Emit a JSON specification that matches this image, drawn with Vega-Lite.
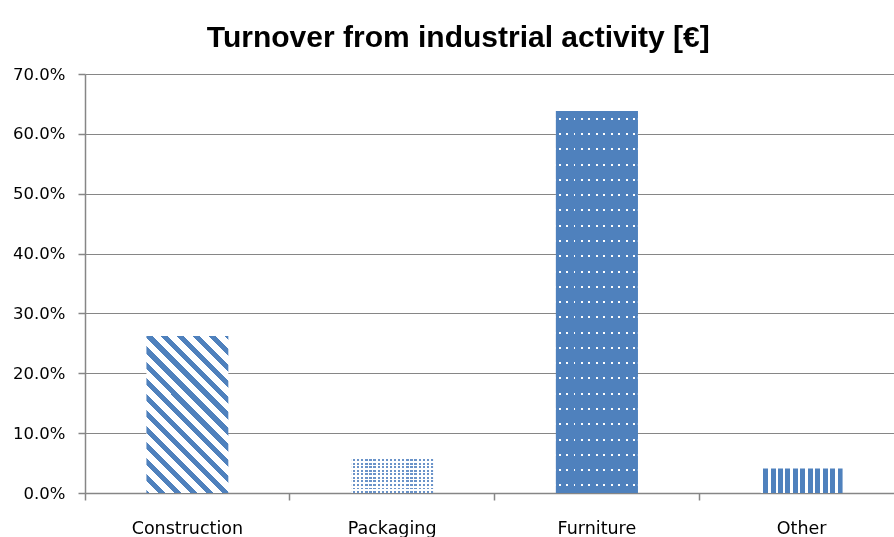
{
  "$schema": "https://vega.github.io/schema/vega-lite/v6.json",
  "width": 809,
  "height": 419,
  "autosize": "none",
  "padding": {"left": 85, "top": 74, "right": 0, "bottom": 44},
  "background": "#ffffff",
  "title": {
    "text": "Turnover from industrial activity [€]",
    "font": "Liberation Sans",
    "fontSize": 30,
    "fontWeight": "bold",
    "color": "#000000",
    "anchor": "middle",
    "frame": "bounds",
    "offset": 13
  },
  "data": {
    "values": [
      {"category": "Construction", "value": 0.2623},
      {"category": "Packaging", "value": 0.059},
      {"category": "Furniture", "value": 0.638},
      {"category": "Other", "value": 0.041}
    ]
  },
  "encoding": {
    "x": {
      "field": "category",
      "type": "nominal",
      "scale": {"domain": ["Construction", "Packaging", "Furniture", "Other"], "range": [0, 819], "paddingInner": 0.6, "paddingOuter": 0.3},
      "axis": {
        "title": null,
        "labelAngle": 0,
        "bandPosition": -0.75,
        "labelFont": "DejaVu Sans",
        "labelFontSize": 17.5,
        "labelColor": "#000000",
        "labelBaseline": "alphabetic",
        "labelPadding": 33,
        "tickSize": 7,
        "tickColor": "#868686",
        "domainColor": "#868686",
        "domainWidth": 1.5,
        "tickWidth": 1.5
      }
    },
    "y": {
      "field": "value",
      "type": "quantitative",
      "scale": {"domain": [0, 0.7], "nice": false},
      "axis": {
        "title": null,
        "values": [0, 0.1, 0.2, 0.3, 0.4, 0.5, 0.6, 0.7],
        "format": ".1%",
        "labelFont": "DejaVu Sans",
        "labelFontSize": 16.5,
        "labelColor": "#000000",
        "labelPadding": 13,
        "tickSize": 7,
        "tickColor": "#868686",
        "tickWidth": 1.5,
        "domainColor": "#868686",
        "domainWidth": 1.5,
        "grid": true,
        "gridColor": "#868686",
        "gridWidth": 1.2
      }
    }
  },
  "layer": [
    {
      "transform": [{"filter": "datum.category === 'Construction'"}],
      "mark": {
        "type": "bar",
        "strokeWidth": 0,
        "fill": {
          "gradient": "linear", "x1": 0, "y1": 1, "x2": 0.624, "y2": -0.196,
          "stops": [
            {"offset": 0, "color": "#4F81BD"}, {"offset": 0.014, "color": "#4F81BD"}, {"offset": 0.014, "color": "#FFFFFF"},
            {"offset": 0.0507, "color": "#FFFFFF"}, {"offset": 0.0507, "color": "#4F81BD"}, {"offset": 0.0807, "color": "#4F81BD"}, {"offset": 0.0807, "color": "#FFFFFF"},
            {"offset": 0.1173, "color": "#FFFFFF"}, {"offset": 0.1173, "color": "#4F81BD"}, {"offset": 0.1473, "color": "#4F81BD"}, {"offset": 0.1473, "color": "#FFFFFF"},
            {"offset": 0.184, "color": "#FFFFFF"}, {"offset": 0.184, "color": "#4F81BD"}, {"offset": 0.214, "color": "#4F81BD"}, {"offset": 0.214, "color": "#FFFFFF"},
            {"offset": 0.2507, "color": "#FFFFFF"}, {"offset": 0.2507, "color": "#4F81BD"}, {"offset": 0.2807, "color": "#4F81BD"}, {"offset": 0.2807, "color": "#FFFFFF"},
            {"offset": 0.3173, "color": "#FFFFFF"}, {"offset": 0.3173, "color": "#4F81BD"}, {"offset": 0.3473, "color": "#4F81BD"}, {"offset": 0.3473, "color": "#FFFFFF"},
            {"offset": 0.384, "color": "#FFFFFF"}, {"offset": 0.384, "color": "#4F81BD"}, {"offset": 0.414, "color": "#4F81BD"}, {"offset": 0.414, "color": "#FFFFFF"},
            {"offset": 0.4507, "color": "#FFFFFF"}, {"offset": 0.4507, "color": "#4F81BD"}, {"offset": 0.4807, "color": "#4F81BD"}, {"offset": 0.4807, "color": "#FFFFFF"},
            {"offset": 0.5173, "color": "#FFFFFF"}, {"offset": 0.5173, "color": "#4F81BD"}, {"offset": 0.5473, "color": "#4F81BD"}, {"offset": 0.5473, "color": "#FFFFFF"},
            {"offset": 0.584, "color": "#FFFFFF"}, {"offset": 0.584, "color": "#4F81BD"}, {"offset": 0.614, "color": "#4F81BD"}, {"offset": 0.614, "color": "#FFFFFF"},
            {"offset": 0.6507, "color": "#FFFFFF"}, {"offset": 0.6507, "color": "#4F81BD"}, {"offset": 0.6807, "color": "#4F81BD"}, {"offset": 0.6807, "color": "#FFFFFF"},
            {"offset": 0.7173, "color": "#FFFFFF"}, {"offset": 0.7173, "color": "#4F81BD"}, {"offset": 0.7473, "color": "#4F81BD"}, {"offset": 0.7473, "color": "#FFFFFF"},
            {"offset": 0.784, "color": "#FFFFFF"}, {"offset": 0.784, "color": "#4F81BD"}, {"offset": 0.814, "color": "#4F81BD"}, {"offset": 0.814, "color": "#FFFFFF"},
            {"offset": 0.8507, "color": "#FFFFFF"}, {"offset": 0.8507, "color": "#4F81BD"}, {"offset": 0.8807, "color": "#4F81BD"}, {"offset": 0.8807, "color": "#FFFFFF"},
            {"offset": 0.9173, "color": "#FFFFFF"}, {"offset": 0.9173, "color": "#4F81BD"}, {"offset": 0.9473, "color": "#4F81BD"}, {"offset": 0.9473, "color": "#FFFFFF"},
            {"offset": 0.984, "color": "#FFFFFF"}, {"offset": 0.984, "color": "#4F81BD"}, {"offset": 1, "color": "#4F81BD"}
          ]
        }
      }
    },
    {
      "transform": [{"filter": "datum.category === 'Packaging'"}],
      "mark": {
        "type": "bar",
        "strokeWidth": 0,
        "fill": {
          "gradient": "linear", "x1": 0, "y1": 0, "x2": 0, "y2": 1,
          "stops": [
            {"offset": 0, "color": "#FFFFFF"}, {"offset": 0.045, "color": "#FFFFFF"}, {"offset": 0.045, "color": "#6A93C9"}, {"offset": 0.1, "color": "#6A93C9"},
            {"offset": 0.1, "color": "#FFFFFF"}, {"offset": 0.145, "color": "#FFFFFF"}, {"offset": 0.145, "color": "#6A93C9"}, {"offset": 0.2, "color": "#6A93C9"},
            {"offset": 0.2, "color": "#FFFFFF"}, {"offset": 0.245, "color": "#FFFFFF"}, {"offset": 0.245, "color": "#6A93C9"}, {"offset": 0.3, "color": "#6A93C9"},
            {"offset": 0.3, "color": "#FFFFFF"}, {"offset": 0.345, "color": "#FFFFFF"}, {"offset": 0.345, "color": "#6A93C9"}, {"offset": 0.4, "color": "#6A93C9"},
            {"offset": 0.4, "color": "#FFFFFF"}, {"offset": 0.445, "color": "#FFFFFF"}, {"offset": 0.445, "color": "#6A93C9"}, {"offset": 0.5, "color": "#6A93C9"},
            {"offset": 0.5, "color": "#FFFFFF"}, {"offset": 0.545, "color": "#FFFFFF"}, {"offset": 0.545, "color": "#6A93C9"}, {"offset": 0.6, "color": "#6A93C9"},
            {"offset": 0.6, "color": "#FFFFFF"}, {"offset": 0.645, "color": "#FFFFFF"}, {"offset": 0.645, "color": "#6A93C9"}, {"offset": 0.7, "color": "#6A93C9"},
            {"offset": 0.7, "color": "#FFFFFF"}, {"offset": 0.745, "color": "#FFFFFF"}, {"offset": 0.745, "color": "#6A93C9"}, {"offset": 0.8, "color": "#6A93C9"},
            {"offset": 0.8, "color": "#FFFFFF"}, {"offset": 0.845, "color": "#FFFFFF"}, {"offset": 0.845, "color": "#6A93C9"}, {"offset": 0.9, "color": "#6A93C9"},
            {"offset": 0.9, "color": "#FFFFFF"}, {"offset": 0.945, "color": "#FFFFFF"}, {"offset": 0.945, "color": "#6A93C9"}, {"offset": 1, "color": "#6A93C9"}
          ]
        }
      }
    },
    {
      "transform": [{"filter": "datum.category === 'Furniture'"}],
      "mark": {
        "type": "bar",
        "strokeWidth": 0,
        "fill": {
          "gradient": "linear", "x1": 0, "y1": 0, "x2": 0, "y2": 1,
          "stops": [
            {"offset": 0, "color": "#4F81BD"},
            {"offset": 0.0175, "color": "#4F81BD"}, {"offset": 0.0175, "color": "#FFFFFF"}, {"offset": 0.0227, "color": "#FFFFFF"}, {"offset": 0.0227, "color": "#4F81BD"},
            {"offset": 0.0575, "color": "#4F81BD"}, {"offset": 0.0575, "color": "#FFFFFF"}, {"offset": 0.0627, "color": "#FFFFFF"}, {"offset": 0.0627, "color": "#4F81BD"},
            {"offset": 0.0975, "color": "#4F81BD"}, {"offset": 0.0975, "color": "#FFFFFF"}, {"offset": 0.1027, "color": "#FFFFFF"}, {"offset": 0.1027, "color": "#4F81BD"},
            {"offset": 0.1375, "color": "#4F81BD"}, {"offset": 0.1375, "color": "#FFFFFF"}, {"offset": 0.1427, "color": "#FFFFFF"}, {"offset": 0.1427, "color": "#4F81BD"},
            {"offset": 0.1775, "color": "#4F81BD"}, {"offset": 0.1775, "color": "#FFFFFF"}, {"offset": 0.1827, "color": "#FFFFFF"}, {"offset": 0.1827, "color": "#4F81BD"},
            {"offset": 0.2175, "color": "#4F81BD"}, {"offset": 0.2175, "color": "#FFFFFF"}, {"offset": 0.2227, "color": "#FFFFFF"}, {"offset": 0.2227, "color": "#4F81BD"},
            {"offset": 0.2575, "color": "#4F81BD"}, {"offset": 0.2575, "color": "#FFFFFF"}, {"offset": 0.2627, "color": "#FFFFFF"}, {"offset": 0.2627, "color": "#4F81BD"},
            {"offset": 0.2975, "color": "#4F81BD"}, {"offset": 0.2975, "color": "#FFFFFF"}, {"offset": 0.3027, "color": "#FFFFFF"}, {"offset": 0.3027, "color": "#4F81BD"},
            {"offset": 0.3375, "color": "#4F81BD"}, {"offset": 0.3375, "color": "#FFFFFF"}, {"offset": 0.3427, "color": "#FFFFFF"}, {"offset": 0.3427, "color": "#4F81BD"},
            {"offset": 0.3775, "color": "#4F81BD"}, {"offset": 0.3775, "color": "#FFFFFF"}, {"offset": 0.3827, "color": "#FFFFFF"}, {"offset": 0.3827, "color": "#4F81BD"},
            {"offset": 0.4175, "color": "#4F81BD"}, {"offset": 0.4175, "color": "#FFFFFF"}, {"offset": 0.4227, "color": "#FFFFFF"}, {"offset": 0.4227, "color": "#4F81BD"},
            {"offset": 0.4575, "color": "#4F81BD"}, {"offset": 0.4575, "color": "#FFFFFF"}, {"offset": 0.4627, "color": "#FFFFFF"}, {"offset": 0.4627, "color": "#4F81BD"},
            {"offset": 0.4975, "color": "#4F81BD"}, {"offset": 0.4975, "color": "#FFFFFF"}, {"offset": 0.5027, "color": "#FFFFFF"}, {"offset": 0.5027, "color": "#4F81BD"},
            {"offset": 0.5375, "color": "#4F81BD"}, {"offset": 0.5375, "color": "#FFFFFF"}, {"offset": 0.5427, "color": "#FFFFFF"}, {"offset": 0.5427, "color": "#4F81BD"},
            {"offset": 0.5775, "color": "#4F81BD"}, {"offset": 0.5775, "color": "#FFFFFF"}, {"offset": 0.5827, "color": "#FFFFFF"}, {"offset": 0.5827, "color": "#4F81BD"},
            {"offset": 0.6175, "color": "#4F81BD"}, {"offset": 0.6175, "color": "#FFFFFF"}, {"offset": 0.6227, "color": "#FFFFFF"}, {"offset": 0.6227, "color": "#4F81BD"},
            {"offset": 0.6575, "color": "#4F81BD"}, {"offset": 0.6575, "color": "#FFFFFF"}, {"offset": 0.6627, "color": "#FFFFFF"}, {"offset": 0.6627, "color": "#4F81BD"},
            {"offset": 0.6975, "color": "#4F81BD"}, {"offset": 0.6975, "color": "#FFFFFF"}, {"offset": 0.7027, "color": "#FFFFFF"}, {"offset": 0.7027, "color": "#4F81BD"},
            {"offset": 0.7375, "color": "#4F81BD"}, {"offset": 0.7375, "color": "#FFFFFF"}, {"offset": 0.7427, "color": "#FFFFFF"}, {"offset": 0.7427, "color": "#4F81BD"},
            {"offset": 0.7775, "color": "#4F81BD"}, {"offset": 0.7775, "color": "#FFFFFF"}, {"offset": 0.7827, "color": "#FFFFFF"}, {"offset": 0.7827, "color": "#4F81BD"},
            {"offset": 0.8175, "color": "#4F81BD"}, {"offset": 0.8175, "color": "#FFFFFF"}, {"offset": 0.8227, "color": "#FFFFFF"}, {"offset": 0.8227, "color": "#4F81BD"},
            {"offset": 0.8575, "color": "#4F81BD"}, {"offset": 0.8575, "color": "#FFFFFF"}, {"offset": 0.8627, "color": "#FFFFFF"}, {"offset": 0.8627, "color": "#4F81BD"},
            {"offset": 0.8975, "color": "#4F81BD"}, {"offset": 0.8975, "color": "#FFFFFF"}, {"offset": 0.9027, "color": "#FFFFFF"}, {"offset": 0.9027, "color": "#4F81BD"},
            {"offset": 0.9375, "color": "#4F81BD"}, {"offset": 0.9375, "color": "#FFFFFF"}, {"offset": 0.9427, "color": "#FFFFFF"}, {"offset": 0.9427, "color": "#4F81BD"},
            {"offset": 0.9775, "color": "#4F81BD"}, {"offset": 0.9775, "color": "#FFFFFF"}, {"offset": 0.9827, "color": "#FFFFFF"}, {"offset": 0.9827, "color": "#4F81BD"},
            {"offset": 1, "color": "#4F81BD"}
          ]
        }
      }
    },
    {
      "transform": [{"filter": "datum.category === 'Other'"}],
      "mark": {
        "type": "bar",
        "strokeWidth": 0,
        "fill": {
          "gradient": "linear", "x1": 0, "y1": 0, "x2": 1, "y2": 0,
          "stops": [
            {"offset": 0, "color": "#FFFFFF"}, {"offset": 0.03, "color": "#FFFFFF"}, {"offset": 0.03, "color": "#4F81BD"}, {"offset": 0.0909, "color": "#4F81BD"},
            {"offset": 0.0909, "color": "#FFFFFF"}, {"offset": 0.1209, "color": "#FFFFFF"}, {"offset": 0.1209, "color": "#4F81BD"}, {"offset": 0.1818, "color": "#4F81BD"},
            {"offset": 0.1818, "color": "#FFFFFF"}, {"offset": 0.2118, "color": "#FFFFFF"}, {"offset": 0.2118, "color": "#4F81BD"}, {"offset": 0.2727, "color": "#4F81BD"},
            {"offset": 0.2727, "color": "#FFFFFF"}, {"offset": 0.3027, "color": "#FFFFFF"}, {"offset": 0.3027, "color": "#4F81BD"}, {"offset": 0.3636, "color": "#4F81BD"},
            {"offset": 0.3636, "color": "#FFFFFF"}, {"offset": 0.3936, "color": "#FFFFFF"}, {"offset": 0.3936, "color": "#4F81BD"}, {"offset": 0.4545, "color": "#4F81BD"},
            {"offset": 0.4545, "color": "#FFFFFF"}, {"offset": 0.4845, "color": "#FFFFFF"}, {"offset": 0.4845, "color": "#4F81BD"}, {"offset": 0.5455, "color": "#4F81BD"},
            {"offset": 0.5455, "color": "#FFFFFF"}, {"offset": 0.5755, "color": "#FFFFFF"}, {"offset": 0.5755, "color": "#4F81BD"}, {"offset": 0.6364, "color": "#4F81BD"},
            {"offset": 0.6364, "color": "#FFFFFF"}, {"offset": 0.6664, "color": "#FFFFFF"}, {"offset": 0.6664, "color": "#4F81BD"}, {"offset": 0.7273, "color": "#4F81BD"},
            {"offset": 0.7273, "color": "#FFFFFF"}, {"offset": 0.7573, "color": "#FFFFFF"}, {"offset": 0.7573, "color": "#4F81BD"}, {"offset": 0.8182, "color": "#4F81BD"},
            {"offset": 0.8182, "color": "#FFFFFF"}, {"offset": 0.8482, "color": "#FFFFFF"}, {"offset": 0.8482, "color": "#4F81BD"}, {"offset": 0.9091, "color": "#4F81BD"},
            {"offset": 0.9091, "color": "#FFFFFF"}, {"offset": 0.9391, "color": "#FFFFFF"}, {"offset": 0.9391, "color": "#4F81BD"}, {"offset": 1, "color": "#4F81BD"}
          ]
        }
      }
    },
    {
      "transform": [{"filter": "datum.category === 'Packaging'"}],
      "mark": {
        "type": "bar",
        "strokeWidth": 0,
        "blend": "lighten",
        "fill": {
          "gradient": "linear", "x1": 0, "y1": 0, "x2": 1, "y2": 0,
          "stops": [
            {"offset": 0, "color": "#FFFFFF"}, {"offset": 0.0225, "color": "#FFFFFF"}, {"offset": 0.0225, "color": "#6A93C9"}, {"offset": 0.05, "color": "#6A93C9"},
            {"offset": 0.05, "color": "#FFFFFF"}, {"offset": 0.0725, "color": "#FFFFFF"}, {"offset": 0.0725, "color": "#6A93C9"}, {"offset": 0.1, "color": "#6A93C9"},
            {"offset": 0.1, "color": "#FFFFFF"}, {"offset": 0.1225, "color": "#FFFFFF"}, {"offset": 0.1225, "color": "#6A93C9"}, {"offset": 0.15, "color": "#6A93C9"},
            {"offset": 0.15, "color": "#FFFFFF"}, {"offset": 0.1725, "color": "#FFFFFF"}, {"offset": 0.1725, "color": "#6A93C9"}, {"offset": 0.2, "color": "#6A93C9"},
            {"offset": 0.2, "color": "#FFFFFF"}, {"offset": 0.2225, "color": "#FFFFFF"}, {"offset": 0.2225, "color": "#6A93C9"}, {"offset": 0.25, "color": "#6A93C9"},
            {"offset": 0.25, "color": "#FFFFFF"}, {"offset": 0.2725, "color": "#FFFFFF"}, {"offset": 0.2725, "color": "#6A93C9"}, {"offset": 0.3, "color": "#6A93C9"},
            {"offset": 0.3, "color": "#FFFFFF"}, {"offset": 0.3225, "color": "#FFFFFF"}, {"offset": 0.3225, "color": "#6A93C9"}, {"offset": 0.35, "color": "#6A93C9"},
            {"offset": 0.35, "color": "#FFFFFF"}, {"offset": 0.3725, "color": "#FFFFFF"}, {"offset": 0.3725, "color": "#6A93C9"}, {"offset": 0.4, "color": "#6A93C9"},
            {"offset": 0.4, "color": "#FFFFFF"}, {"offset": 0.4225, "color": "#FFFFFF"}, {"offset": 0.4225, "color": "#6A93C9"}, {"offset": 0.45, "color": "#6A93C9"},
            {"offset": 0.45, "color": "#FFFFFF"}, {"offset": 0.4725, "color": "#FFFFFF"}, {"offset": 0.4725, "color": "#6A93C9"}, {"offset": 0.5, "color": "#6A93C9"},
            {"offset": 0.5, "color": "#FFFFFF"}, {"offset": 0.5225, "color": "#FFFFFF"}, {"offset": 0.5225, "color": "#6A93C9"}, {"offset": 0.55, "color": "#6A93C9"},
            {"offset": 0.55, "color": "#FFFFFF"}, {"offset": 0.5725, "color": "#FFFFFF"}, {"offset": 0.5725, "color": "#6A93C9"}, {"offset": 0.6, "color": "#6A93C9"},
            {"offset": 0.6, "color": "#FFFFFF"}, {"offset": 0.6225, "color": "#FFFFFF"}, {"offset": 0.6225, "color": "#6A93C9"}, {"offset": 0.65, "color": "#6A93C9"},
            {"offset": 0.65, "color": "#FFFFFF"}, {"offset": 0.6725, "color": "#FFFFFF"}, {"offset": 0.6725, "color": "#6A93C9"}, {"offset": 0.7, "color": "#6A93C9"},
            {"offset": 0.7, "color": "#FFFFFF"}, {"offset": 0.7225, "color": "#FFFFFF"}, {"offset": 0.7225, "color": "#6A93C9"}, {"offset": 0.75, "color": "#6A93C9"},
            {"offset": 0.75, "color": "#FFFFFF"}, {"offset": 0.7725, "color": "#FFFFFF"}, {"offset": 0.7725, "color": "#6A93C9"}, {"offset": 0.8, "color": "#6A93C9"},
            {"offset": 0.8, "color": "#FFFFFF"}, {"offset": 0.8225, "color": "#FFFFFF"}, {"offset": 0.8225, "color": "#6A93C9"}, {"offset": 0.85, "color": "#6A93C9"},
            {"offset": 0.85, "color": "#FFFFFF"}, {"offset": 0.8725, "color": "#FFFFFF"}, {"offset": 0.8725, "color": "#6A93C9"}, {"offset": 0.9, "color": "#6A93C9"},
            {"offset": 0.9, "color": "#FFFFFF"}, {"offset": 0.9225, "color": "#FFFFFF"}, {"offset": 0.9225, "color": "#6A93C9"}, {"offset": 0.95, "color": "#6A93C9"},
            {"offset": 0.95, "color": "#FFFFFF"}, {"offset": 0.9725, "color": "#FFFFFF"}, {"offset": 0.9725, "color": "#6A93C9"}, {"offset": 1, "color": "#6A93C9"}
          ]
        }
      }
    },
    {
      "transform": [{"filter": "datum.category === 'Furniture'"}],
      "mark": {
        "type": "bar",
        "strokeWidth": 0,
        "blend": "darken",
        "fill": {
          "gradient": "linear", "x1": 0, "y1": 0, "x2": 1, "y2": 0,
          "stops": [
            {"offset": 0, "color": "#4F81BD"},
            {"offset": 0.033, "color": "#4F81BD"}, {"offset": 0.033, "color": "#FFFFFF"}, {"offset": 0.057, "color": "#FFFFFF"}, {"offset": 0.057, "color": "#4F81BD"},
            {"offset": 0.1239, "color": "#4F81BD"}, {"offset": 0.1239, "color": "#FFFFFF"}, {"offset": 0.1479, "color": "#FFFFFF"}, {"offset": 0.1479, "color": "#4F81BD"},
            {"offset": 0.2148, "color": "#4F81BD"}, {"offset": 0.2148, "color": "#FFFFFF"}, {"offset": 0.2388, "color": "#FFFFFF"}, {"offset": 0.2388, "color": "#4F81BD"},
            {"offset": 0.3057, "color": "#4F81BD"}, {"offset": 0.3057, "color": "#FFFFFF"}, {"offset": 0.3297, "color": "#FFFFFF"}, {"offset": 0.3297, "color": "#4F81BD"},
            {"offset": 0.3966, "color": "#4F81BD"}, {"offset": 0.3966, "color": "#FFFFFF"}, {"offset": 0.4206, "color": "#FFFFFF"}, {"offset": 0.4206, "color": "#4F81BD"},
            {"offset": 0.4875, "color": "#4F81BD"}, {"offset": 0.4875, "color": "#FFFFFF"}, {"offset": 0.5115, "color": "#FFFFFF"}, {"offset": 0.5115, "color": "#4F81BD"},
            {"offset": 0.5785, "color": "#4F81BD"}, {"offset": 0.5785, "color": "#FFFFFF"}, {"offset": 0.6025, "color": "#FFFFFF"}, {"offset": 0.6025, "color": "#4F81BD"},
            {"offset": 0.6694, "color": "#4F81BD"}, {"offset": 0.6694, "color": "#FFFFFF"}, {"offset": 0.6934, "color": "#FFFFFF"}, {"offset": 0.6934, "color": "#4F81BD"},
            {"offset": 0.7603, "color": "#4F81BD"}, {"offset": 0.7603, "color": "#FFFFFF"}, {"offset": 0.7843, "color": "#FFFFFF"}, {"offset": 0.7843, "color": "#4F81BD"},
            {"offset": 0.8512, "color": "#4F81BD"}, {"offset": 0.8512, "color": "#FFFFFF"}, {"offset": 0.8752, "color": "#FFFFFF"}, {"offset": 0.8752, "color": "#4F81BD"},
            {"offset": 0.9421, "color": "#4F81BD"}, {"offset": 0.9421, "color": "#FFFFFF"}, {"offset": 0.9661, "color": "#FFFFFF"}, {"offset": 0.9661, "color": "#4F81BD"},
            {"offset": 1, "color": "#4F81BD"}
          ]
        }
      }
    }
  ],
  "config": {
    "view": {"stroke": null}
  }
}
